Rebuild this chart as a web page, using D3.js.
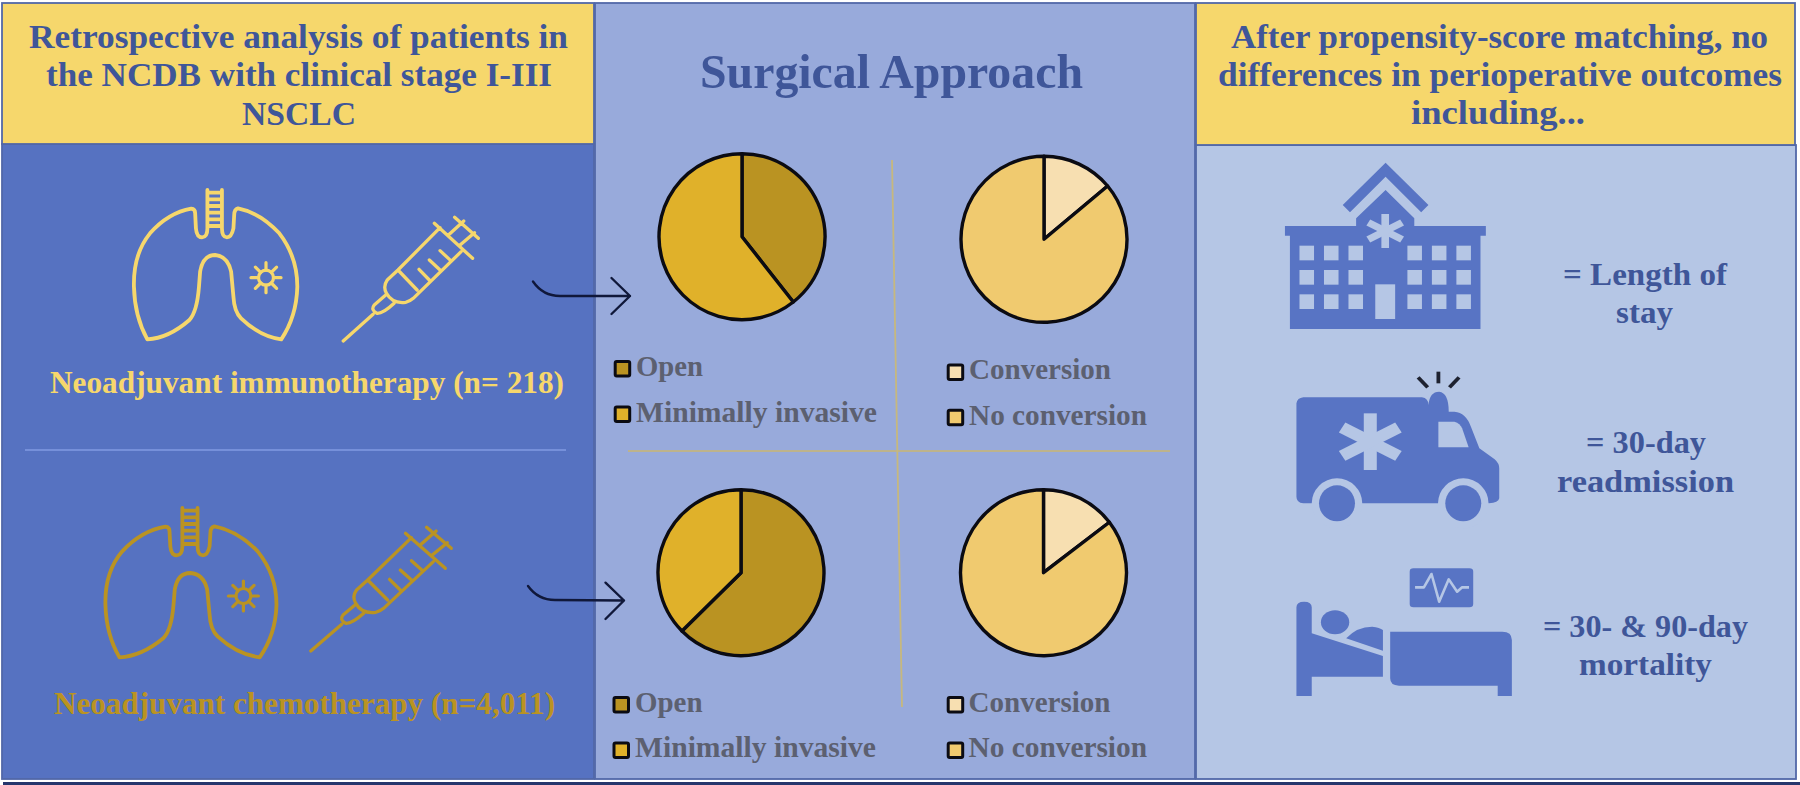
<!DOCTYPE html>
<html><head><meta charset="utf-8">
<style>html,body{margin:0;padding:0;background:#fff;overflow:hidden}svg{display:block}text{font-family:"Liberation Serif",serif;font-weight:700}</style>
<script src="https://cdn.jsdelivr.net/npm/d3@7"></script></head><body>
<svg id="c" width="1800" height="785"></svg>
<script>
// ---- data ----
const approachLabels = ["Open", "Minimally invasive"];
const conversionLabels = ["Conversion", "No conversion"];
const immunoApproach = [39.4, 60.6];
const immunoConversion = [13.9, 86.1];
const chemoApproach = [62.6, 37.4];
const chemoConversion = [14.6, 85.4];
const leftHeader = ["Retrospective analysis of patients in", "the NCDB with clinical stage I-III", "NSCLC"];
const centerTitle = "Surgical Approach";
const rightHeader = ["After propensity-score matching, no", "differences in perioperative outcomes", "including..."];
const groupLabels = ["Neoadjuvant immunotherapy (n= 218)", "Neoadjuvant chemotherapy (n=4,011)"];
const outcomeLines = ["= Length of", "stay", "= 30-day", "readmission", "= 30- & 90-day", "mortality"];

// ---- palette ----
const C = {yellow:"#F6D76C", blue:"#5672C1", mid:"#98AADB", light:"#B5C6E5", ink:"#3F5699", gold:"#BA9322",
  amber:"#E0B12A", sand:"#F0CA6F", cream:"#F7DFB1", gray:"#5C6070", edge:"#4A64A8", icon:"#5874C4", black:"#0B0B12"};
const approachColors = d3.scaleOrdinal(approachLabels, [C.gold, C.amber]);
const conversionColors = d3.scaleOrdinal(conversionLabels, [C.cream, C.sand]);

const svg = d3.select("#c");

// ---- panels ----
const panels = [
  [2,144,592,635,C.blue],[595,3,600,776,C.mid],[1196,145,600,634,C.light],
  [2,3,592,141,C.yellow],[1196,3,599,142,C.yellow]];
svg.append("g").selectAll("rect").data(panels).join("rect")
  .attr("x",d=>d[0]).attr("y",d=>d[1]).attr("width",d=>d[2]).attr("height",d=>d[3])
  .attr("fill",d=>d[4]).attr("stroke","#5268A8").attr("stroke-width",1.8);
svg.append("rect").attr("x",3).attr("y",782).attr("width",1797).attr("height",3).attr("fill","#26366C");

// ---- dividers ----
const rule = (x1,y1,x2,y2,col,w=1.8)=>svg.append("line").attr("x1",x1).attr("y1",y1).attr("x2",x2).attr("y2",y2).attr("stroke",col).attr("stroke-width",w);
rule(25,450,566,450,"#7690DA");
rule(628,451,1170,451,"#BDB38C");
rule(892,160,902,707,"#C6B87E");

// ---- text helper: fit to the measured extent in the reference ----
function fit(txt,x0,x1,base,size,col){
  svg.append("text").attr("x",x0).attr("y",base).attr("font-size",size).attr("fill",col)
    .attr("textLength",x1-x0).attr("lengthAdjust","spacingAndGlyphs").text(txt);
}
[[29,568,48],[46,552,86],[242,356,125]].forEach((p,i)=>fit(leftHeader[i],p[0],p[1],p[2],33,C.ink));
[[1231,1768,48],[1218,1782,86],[1411,1585,124]].forEach((p,i)=>fit(rightHeader[i],p[0],p[1],p[2],33,C.ink));
fit(centerTitle,700,1083,88,49,C.ink);
fit(groupLabels[0],50,564,393,31,C.yellow);
fit(groupLabels[1],54,555,714,31,C.gold);
[[1563,1727,285],[1616,1673,323],[1586,1706,453],[1557,1734,492],[1543,1748,637],[1579,1712,675]]
  .forEach((p,i)=>fit(outcomeLines[i],p[0],p[1],p[2],32,C.ink));

// ---- pies ----
const pie = d3.pie().sort(null);
const arc = d3.arc().innerRadius(0).outerRadius(83);
function drawPie(values,labels,color,cx,cy){
  svg.append("g").attr("transform",`translate(${cx},${cy})`)
    .selectAll("path").data(pie(values)).join("path")
    .attr("d",arc).attr("fill",(d,i)=>color(labels[i]))
    .attr("stroke",C.black).attr("stroke-width",3.4).attr("stroke-linejoin","round");
}
drawPie(immunoApproach,approachLabels,approachColors,742,236.7);
drawPie(immunoConversion,conversionLabels,conversionColors,1044,239.3);
drawPie(chemoApproach,approachLabels,approachColors,741,572.7);
drawPie(chemoConversion,conversionLabels,conversionColors,1043.5,572.7);

// ---- legends ----
function legend(labels,color,sx,tx,rows){
  labels.forEach((l,i)=>{
    const r=rows[i];
    svg.append("rect").attr("x",sx+1.5).attr("y",r[0]+1.5).attr("width",14.5).attr("height",14.5).attr("rx",1.5)
      .attr("fill",color(l)).attr("stroke",C.black).attr("stroke-width",3);
    fit(l,tx,r[2],r[1],30,C.gray);
  });
}
legend(approachLabels,approachColors,613.7,636,[[360,376,703],[405.5,421.5,877]]);
legend(conversionLabels,conversionColors,946.7,969,[[363.5,379,1111],[408.7,425,1147]]);
legend(approachLabels,approachColors,612.5,635,[[696,711.7,702.5],[741.5,757,876]]);
legend(conversionLabels,conversionColors,946.7,968.5,[[696,711.7,1110.5],[741.5,757,1147]]);

// ---- arrows ----
const arrow=(d)=>svg.append("path").attr("d",d).attr("fill","none").attr("stroke","#10183A").attr("stroke-width",2.4).attr("stroke-linecap","round").attr("stroke-linejoin","round");
arrow("M533,281.5Q543,296 560,296L630,296M611.5,278L630,296L611.5,314");
arrow("M528,586Q538,600 555,600L624,600.5M605.5,582.7L624,600.5L605.5,619");

// ---- lung + syringe line icons (drawn in zoom-grid units) ----
const GX=1/2.6133, GY=1/3;
const lungD="M542,180V295Q542,322 528,322Q514,322 512,295L510,250Q510,237 500,236Q440,248 392,310Q348,372 350,470Q352,560 385,628Q440,625 495,570Q515,545 520,470L523,425Q530,375 562,375Q595,378 604,425L610,500Q612,545 630,565Q680,620 735,628Q775,560 777,470Q777,380 730,310Q680,248 622,235Q612,238 612,255L610,295Q605,322 593,322Q580,322 580,295V180M542,188H580M542,208H580M542,228H580M542,248H580M542,268H580M542,288H580";
const syringeD="M897,633L975,553M1008,495L978,525Q968,540 985,550Q1000,552 1030,520M1150,293L1040,420L1012,450Q1000,470 1010,490Q1025,522 1060,517Q1070,515 1080,505L1205,365M1135,280L1235,385M1040,420L1090,480M1095,418L1122,450M1122,390L1150,420M1150,362L1178,392M1172,315L1212,273M1200,347L1240,308M1188,262L1250,325";
function lineIcon(d,tx,ty,sx,col,w){
  svg.append("path").attr("d",d).attr("fill","none").attr("stroke",col).attr("stroke-linecap","round").attr("stroke-linejoin","round")
    .attr("stroke-width",w).attr("vector-effect","non-scaling-stroke")
    .attr("transform",`translate(${tx},${ty}) scale(${GX*sx},${GY})`);
}
function virus(cx,cy,col){
  const g=svg.append("g").attr("transform",`translate(${cx},${cy})`);
  g.append("circle").attr("r",7.5).attr("fill","none").attr("stroke",col).attr("stroke-width",3.2);
  d3.range(8).forEach(i=>{
    const a=i*Math.PI/4, c=Math.cos(a), s=Math.sin(a);
    g.append("line").attr("x1",7.5*c).attr("y1",7.5*s).attr("x2",15*c).attr("y2",15*s).attr("stroke",col).attr("stroke-width",3.2).attr("stroke-linecap","round");
  });
}
lineIcon(lungD,0,130,1,C.yellow,3.8);
lineIcon(syringeD,0,130,1,C.yellow,3.3);
virus(266,277.7,C.yellow);
lineIcon(lungD,-34.8,448,1.047,C.gold,3.8);
lineIcon(syringeD,-46.2,440,1.04,C.gold,3.3);
virus(243.4,596,C.gold);

// ---- outcome icons ----
function solid(parent,d,fill){return parent.append("path").attr("d",d).attr("fill",fill);}
const zoomG=(ox,oy)=>svg.append("g").attr("transform",`translate(${ox},${oy}) scale(${GX},${GY})`);
function asterisk(g,cx,cy,len,w,col){
  [0,60,120].forEach(a=>{
    const t=a*Math.PI/180,dx=Math.sin(t)*len,dy=Math.cos(t)*len;
    g.append("line").attr("x1",cx-dx).attr("y1",cy-dy).attr("x2",cx+dx).attr("y2",cy+dy).attr("stroke",col).attr("stroke-width",w);
  });
}
// hospital
const h=zoomG(1200,140);
solid(h,"M485,68L597,195L578,217L485,110L392,217L373,195Z",C.icon);
solid(h,"M485,150L560,235V258H747V287H733V567H235V287H222V258H408V235Z",C.icon);
[260,324,388,542,606,670].forEach(x=>[317,390,463].forEach(y=>{
  h.append("rect").attr("x",x).attr("y",y).attr("width",38).attr("height",44).attr("fill",C.light);
}));
h.append("rect").attr("x",458).attr("y",433).attr("width",52).attr("height",104).attr("fill",C.light);
asterisk(h,484,273,51,20,C.light);
// ambulance
const am=zoomG(1200,140);
solid(am,"M270,772H580Q597,775 597,795Q600,755 625,755Q650,758 650,815H665Q695,818 708,860L730,925L770,958Q782,970 782,985V1075Q780,1088 755,1090H270Q252,1088 252,1070V790Q254,774 270,772Z",C.icon);
solid(am,"M623,845H665Q680,850 685,865L702,922H623Z",C.light);
asterisk(am,445,905,85,34,C.light);
[358,688].forEach(x=>{
  am.append("ellipse").attr("cx",x).attr("cy",1090).attr("rx",66).attr("ry",75).attr("fill",C.light);
  am.append("ellipse").attr("cx",x).attr("cy",1090).attr("rx",47).attr("ry",54).attr("fill",C.icon);
});
[[623,695,623,730],[570,712,595,742],[677,712,652,742]].forEach(l=>{
  am.append("line").attr("x1",l[0]).attr("y1",l[1]).attr("x2",l[2]).attr("y2",l[3]).attr("stroke","#1E2230").attr("stroke-width",10);
});
// bed
const b=zoomG(1200,520);
solid(b,"M252,528V262Q252,245 272,245Q292,245 292,262V340L478,408V470H292V528Z",C.icon);
b.append("ellipse").attr("cx",353).attr("cy",307).attr("rx",37).attr("ry",36).attr("fill",C.icon);
solid(b,"M382,355Q410,320 450,320Q470,322 478,330V392Z",C.icon);
solid(b,"M497,335H790Q815,335 815,360V528H778V497H520Q497,497 497,475Z",C.icon);
b.append("rect").attr("x",548).attr("y",145).attr("width",166).attr("height",117).attr("rx",10).attr("fill",C.icon);
b.append("path").attr("d","M562,202H585L605,162L625,245L650,178L672,215L685,202H703").attr("fill","none")
  .attr("stroke",C.light).attr("stroke-width",2.6).attr("vector-effect","non-scaling-stroke").attr("stroke-linejoin","round");
</script></body></html>
